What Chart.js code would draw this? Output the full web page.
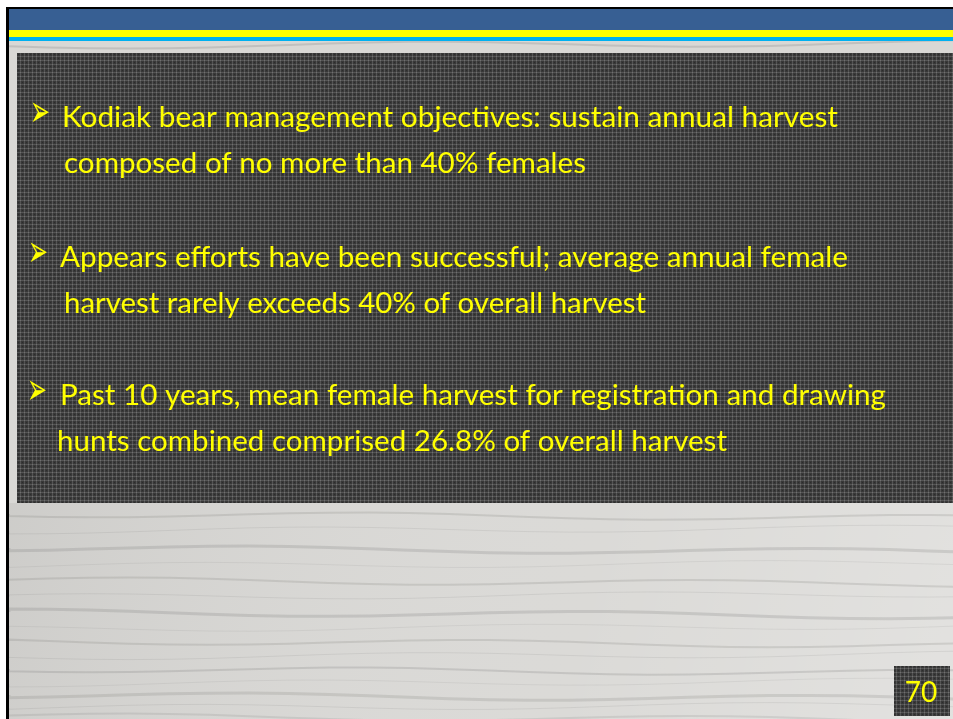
<!DOCTYPE html>
<html>
<head>
<meta charset="utf-8">
<script src="https://cdn.jsdelivr.net/npm/chart.js@4"></script>
<style>
  html, body { margin: 0; padding: 0; background: #fff; }
  #slide { display: block; }
</style>
</head>
<body>
<canvas id="slide" width="953" height="719"></canvas>
<script>
// Slide text (the "data" of this slide)
const bulletLines = [
  "Kodiak bear management objectives: sustain annual harvest",
  "Appears efforts have been successful; average annual female",
  "Past 10 years, mean female harvest for registration and drawing"
];
const contLines = [
  "composed of no more than 40% females",
  "harvest rarely exceeds 40% of overall harvest",
  "hunts combined comprised 26.8% of overall harvest"
];
const pageNumber = "70";

// layout of the text block
const bulletBase = [127, 267, 405];
const contBase = [173, 313, 451];
const bulletX = [62, 60, 60];
const bulletW = [776, 788, 826];
const contX = [64, 64, 57];
const contW = [522, 582, 670];
const arrowX = [30, 28, 27];

const YELLOW = "#ffff00";
const FONT = "29px Lato, 'Open Sans', sans-serif";

//------------------------------------------

// dark woven pattern of the text panel
function makePattern(ctx) {
  const c = document.createElement("canvas");
  c.width = 4; c.height = 4;
  const p = c.getContext("2d");
  p.fillStyle = "#383838"; p.fillRect(0, 0, 4, 4);
  p.fillStyle = "#545454"; p.fillRect(0, 0, 4, 1); p.fillRect(0, 0, 1, 4);
  p.fillStyle = "#707070"; p.fillRect(0, 0, 1, 1);
  p.fillStyle = "#2c2c2c"; p.fillRect(2, 2, 1, 1);
  return ctx.createPattern(c, "repeat");
}

// weathered wood streaks (decoration only)
const streaks = [
  [46, 0.22, 2], [514, 0.18, 2], [531, 0.12, 1], [548, 0.2, 3], [566, 0.1, 1],
  [580, 0.18, 2], [597, 0.12, 1], [612, 0.2, 3], [629, 0.1, 1], [641, 0.18, 2],
  [657, 0.12, 1], [669, 0.2, 2], [684, 0.1, 1], [695, 0.18, 3], [708, 0.12, 1], [716, 0.15, 2]
];

function drawWood(ctx, w, h) {
  ctx.fillStyle = "#d9d8d5";
  ctx.fillRect(9, 41, w - 9, h - 41);
  const g = ctx.createLinearGradient(0, 500, w, 719);
  g.addColorStop(0, "rgba(150,150,148,0.18)");
  g.addColorStop(0.6, "rgba(255,255,255,0.05)");
  g.addColorStop(1, "rgba(255,255,255,0.25)");
  ctx.fillStyle = g;
  ctx.fillRect(9, 503, w - 9, h - 503);
  streaks.forEach(function (s, i) {
    ctx.strokeStyle = "rgba(110,110,108," + s[1] + ")";
    ctx.lineWidth = s[2];
    ctx.beginPath();
    ctx.moveTo(9, s[0]);
    for (let x = 9; x <= w + 40; x += 40) {
      ctx.lineTo(x, s[0] + Math.sin((x + i * 57) / 90) * 3 + (x / w) * (i % 2 ? 4 : -3));
    }
    ctx.stroke();
  });
}

function drawLine(ctx, text, x, base, width) {
  ctx.save();
  ctx.font = FONT;
  const m = ctx.measureText(text).width;
  ctx.translate(x, base);
  ctx.scale(width / m, 1);
  ctx.fillText(text, 0, 0);
  ctx.restore();
}

// bullet arrowhead glyph, stretched to the size on the slide
function drawArrow(ctx, x, base) {
  ctx.save();
  ctx.font = "20px 'DejaVu Sans'";
  const m = ctx.measureText("\u27A2").width;
  ctx.translate(x, base - 1);
  ctx.scale(20 / m, 2.2);
  ctx.fillText("\u27A2", 0, 0);
  ctx.restore();
}

const slidePlugin = {
  id: "slide",
  beforeDraw(chart) {
    const ctx = chart.ctx;
    const w = chart.width, h = chart.height;
    const a = chart.chartArea;
    ctx.save();
    ctx.fillStyle = "#ffffff";
    ctx.fillRect(0, 0, w, h);
    drawWood(ctx, w, h);
    // frame and header bands
    ctx.fillStyle = "#000000";
    ctx.fillRect(6, 7, w - 6, 2);
    ctx.fillRect(6, 7, 3, h - 7);
    ctx.fillStyle = "#375f93";
    ctx.fillRect(9, 9, w - 9, 21);
    ctx.fillStyle = "#ffff00";
    ctx.fillRect(9, 30, w - 9, 7);
    ctx.fillStyle = "#00b0f0";
    ctx.fillRect(9, 37, w - 9, 4);
    // text panel = chart area
    const pat = makePattern(ctx);
    ctx.fillStyle = pat;
    ctx.fillRect(a.left, a.top, a.right - a.left, a.bottom - a.top);
    // page number box
    ctx.fillRect(894, 666, 56, 50);
    ctx.restore();
  },
  afterDraw(chart) {
    const ctx = chart.ctx;
    ctx.save();
    ctx.fillStyle = YELLOW;
    ctx.textBaseline = "alphabetic";
    for (let i = 0; i < bulletLines.length; i++) {
      drawArrow(ctx, arrowX[i], bulletBase[i]);
      drawLine(ctx, bulletLines[i], bulletX[i], bulletBase[i], bulletW[i]);
      drawLine(ctx, contLines[i], contX[i], contBase[i], contW[i]);
    }
    ctx.font = "28px Lato, sans-serif";
    ctx.textAlign = "center";
    ctx.fillText(pageNumber, 921, 702);
    ctx.restore();
  }
};

//Configurations
const config = {
  type: "bar",
  data: { labels: [], datasets: [] },
  options: {
    responsive: false,
    animation: false,
    layout: { padding: { left: 17, top: 53, right: 0, bottom: 216 } },
    scales: { x: { display: false }, y: { display: false } },
    plugins: { legend: { display: false }, tooltip: { enabled: false } }
  },
  plugins: [slidePlugin]
};

//Render
const slide = new Chart(document.getElementById("slide"), config);
</script>
</body>
</html>
